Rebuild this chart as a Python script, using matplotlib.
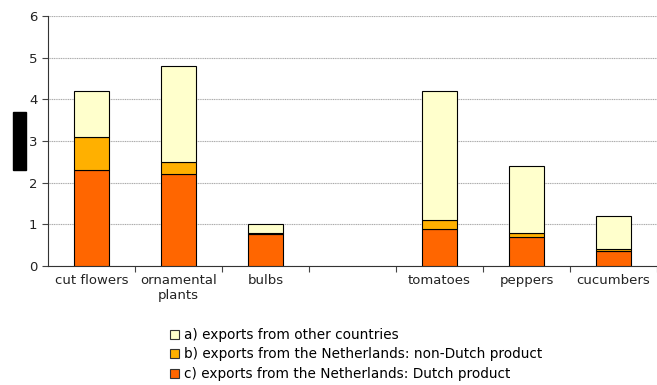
import numpy as np
import matplotlib.pyplot as plt
from matplotlib.patches import Rectangle

categories = ['cut flowers', 'ornamental\nplants', 'bulbs', '', 'tomatoes', 'peppers', 'cucumbers']
dutch = [2.3, 2.2, 0.78, 0, 0.9, 0.7, 0.35]          # c) Dutch product
non_dutch = [0.8, 0.3, 0.02, 0, 0.2, 0.1, 0.05]      # b) non-Dutch product
other = [1.1, 2.3, 0.2, 0, 3.1, 1.6, 0.8]            # a) other countries

labels = ['a) exports from other countries',
          'b) exports from the Netherlands: non-Dutch product',
          'c) exports from the Netherlands: Dutch product']
colors = ['#FFFFCC', '#FFB000', '#FF6600']

x = np.arange(len(categories))
dutch = np.array(dutch)
non_dutch = np.array(non_dutch)
other = np.array(other)

fig = plt.figure(figsize=(6.57, 3.85), dpi=100)
ax = fig.add_axes([0.073, 0.309, 0.927, 0.649])

w = 0.4
b_c = ax.bar(x, dutch, w, color=colors[2], edgecolor='black', linewidth=0.8, zorder=3)
b_b = ax.bar(x, non_dutch, w, bottom=dutch, color=colors[1], edgecolor='black', linewidth=0.8, zorder=3)
b_a = ax.bar(x, other, w, bottom=dutch + non_dutch, color=colors[0], edgecolor='black', linewidth=0.8, zorder=3)
# hide empty slot bars
for bars in (b_a, b_b, b_c):
    bars[3].set_visible(False)

ax.set_xlim(-0.5, 6.5)
ax.set_ylim(0, 6)
ax.set_yticks(range(7))
ax.yaxis.grid(True, color='#aaaaaa', linestyle=(0, (1, 0.6)), linewidth=0.8, zorder=0)

ax.set_xticks(x + 0.5)
ax.set_xticklabels([])
ax.tick_params(axis='x', which='major', direction='out', length=4, color='#444444')
ax.set_xticks(x, minor=True)
ax.set_xticklabels(categories, minor=True, fontsize=9.5, color='#222222')
ax.tick_params(axis='x', which='minor', length=0, pad=6)
ax.tick_params(axis='y', direction='out', length=4, labelsize=9.5, labelcolor='#222222', color='#444444')

for s in ('top', 'right'):
    ax.spines[s].set_visible(False)
for s in ('left', 'bottom'):
    ax.spines[s].set_color('#333333')

# redacted y-axis label
fig.add_artist(Rectangle((13 / 657, 1 - 170 / 385), 13 / 657, 58 / 385,
                         transform=fig.transFigure, color='black'))

handles = [Rectangle((0, 0), 1, 1, facecolor=c, edgecolor='#333333', linewidth=0.8) for c in colors]
fig.legend(handles, labels, loc='upper left', bbox_to_anchor=(170 / 657, 1 - 328 / 385),
           frameon=False, fontsize=9.8, handlelength=0.65, handleheight=0.65,
           handletextpad=0.4, labelspacing=0.4, borderaxespad=0, borderpad=0)

plt.savefig('out.png', dpi=100)
